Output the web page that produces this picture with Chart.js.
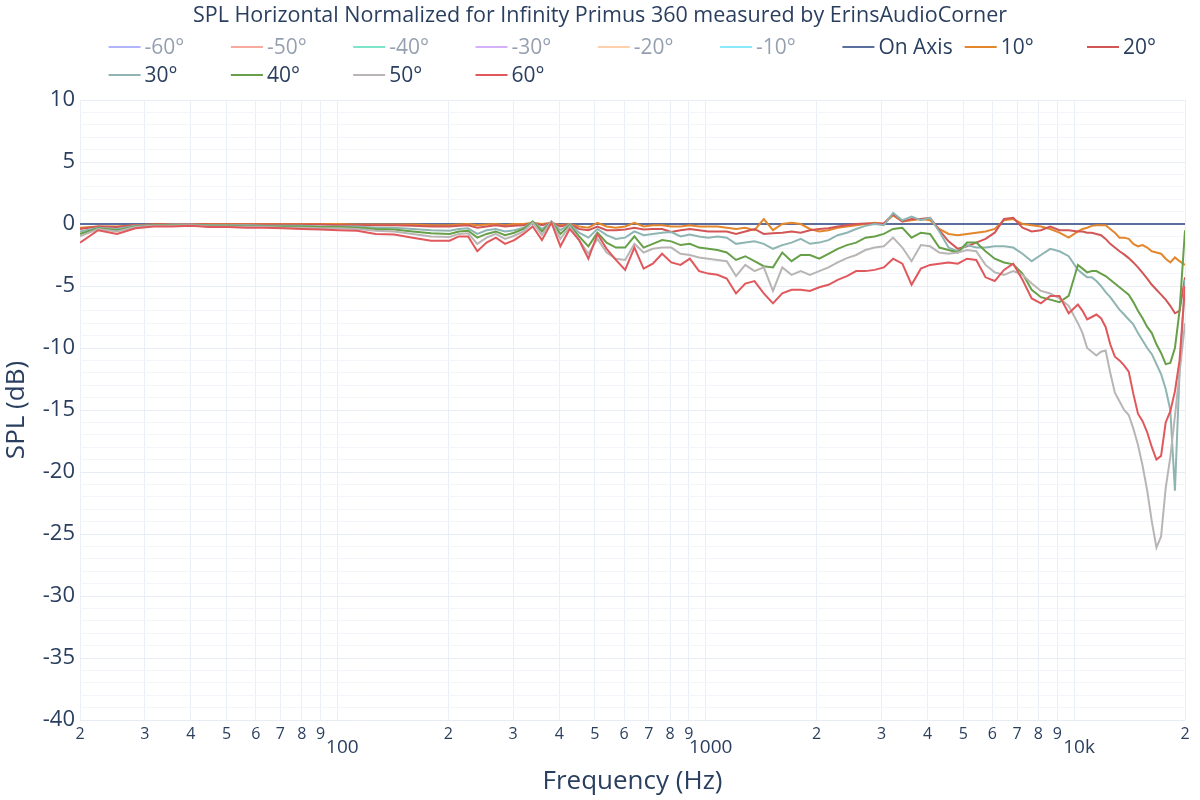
<!DOCTYPE html>
<html><head><meta charset="utf-8">
<script src="https://cdn.jsdelivr.net/npm/chart.js@4/dist/chart.umd.min.js"></script>
<style>html,body{margin:0;padding:0;background:#fff;}#wrap{width:1200px;height:800px;position:relative;}</style>
</head><body><div id="wrap"><canvas id="c" width="1200" height="800"></canvas></div>
<script>
const titleText = 'SPL Horizontal Normalized for Infinity Primus 360 measured by ErinsAudioCorner';
const freqs = [20, 22.4, 25.2, 28.3, 31.7, 35.6, 40, 44.9, 50.4, 56.6, 63.5, 71.3, 80, 89.8, 100.8, 113.1, 127, 142.5, 160, 179.6,
201.6, 213.6, 226.3, 239.7, 254, 269.1, 285.1, 302, 320, 339, 359, 381, 403, 427, 453, 480, 508, 538, 570, 604, 640, 678, 718, 761, 806, 854, 905, 959, 1016, 1076, 1140, 1208, 1280, 1356, 1437, 1522, 1613, 1709, 1810, 1918, 2032, 2153, 2281, 2416, 2560, 2712, 2874, 3044, 3225, 3417, 3620, 3836, 4064, 4305, 4561, 4833, 5120, 5424, 5747, 6089, 6451, 6834, 7241, 7671, 8127, 8611, 9123, 9665, 10240,
10540, 10849, 11167, 11494, 11831, 12177, 12534, 12901, 13279, 13668, 14069, 14481, 14905, 15342, 15791, 16255, 16731, 17221, 17726, 18245, 18780, 19330, 20000];

const onAxis = [0,0,0,0,0,0,0,0,0,0,0,0,0,0,0,0,0,0,0,0,
0,0,0,0,0,0,0,0,0,0, 0,0,0,0,0,0,0,0,0,0, 0,0,0,0,0,0,0,0,0,0, 0,0,0,0,0,0,0,0,0,0, 0,0,0,0,0,0,0,0,0,0, 0,0,0,0,0,0,0,0,0,0, 0,0,0,0,0,0,0,0,0,
0,0,0,0,0,0,0,0,0,0,0,0,0,0,0,0,0,0,0,0,0,0,0];

const deg10 = [-0.3, -0.2, -0.2, -0.1, -0.05, 0, 0, 0, 0, 0, 0, 0, 0, 0, 0, -0.05, -0.05, -0.05, -0.05, -0.1,
-0.1, -0.05, 0, -0.1, -0.05, 0, -0.1, 0, 0, 0.1,
0, 0.1, -0.1, 0, -0.2, -0.3, 0.1, -0.2, -0.3, -0.2,
0.1, -0.2, -0.1, -0.1, -0.2, -0.2, -0.1, -0.2, -0.2, -0.2,
-0.3, -0.4, -0.3, -0.5, 0.4, -0.5, 0, 0.1, 0, -0.4,
-0.6, -0.5, -0.3, -0.2, -0.1, 0, 0.1, 0, 0.7, 0.2,
0.3, 0.4, 0.3, -0.4, -0.8, -0.9, -0.8, -0.7, -0.6, -0.4,
0.3, 0.4, 0, -0.1, -0.2, -0.4, -0.7, -1.1, -0.6,
-0.4, -0.3, -0.15, -0.1, -0.1, -0.1, -0.4, -0.7, -1.1, -1.1, -1.2, -1.6, -1.8, -1.7, -1.9, -2.2, -2.3, -2.4, -2.8, -3.1, -2.7, -3.0, -3.3];

const deg20 = [-0.4, -0.2, -0.25, -0.1, -0.05, 0, 0, -0.05, -0.05, -0.05, -0.05, -0.05, -0.05, -0.05, -0.1, -0.1, -0.1, -0.1, -0.15, -0.2,
-0.2, -0.15, -0.1, -0.3, -0.2, -0.1, -0.2, -0.15, -0.1, 0.1,
-0.1, 0.1, -0.2, 0, -0.4, -0.5, -0.2, -0.5, -0.5, -0.45,
-0.3, -0.45, -0.4, -0.4, -0.65, -0.5, -0.4, -0.5, -0.6, -0.6,
-0.6, -0.8, -0.6, -0.4, -0.8, -0.75, -0.7, -0.6, -0.7, -0.5,
-0.4, -0.35, -0.2, -0.1, 0, 0.05, 0.05, 0.05, 0.8, 0.2,
0.4, 0.4, 0.5, -0.5, -1.4, -2.0, -1.8, -1.5, -1.2, -0.7,
0.4, 0.5, -0.3, -0.6, -0.5, -0.2, -0.5, -0.5, -0.6,
-0.6, -0.7, -0.7, -0.8, -0.9, -1.2, -1.6, -1.9, -2.2, -2.45, -2.75, -3.1, -3.5, -3.95, -4.4, -4.9, -5.3, -5.7, -6.1, -6.6, -7.2, -7.0, -4.3];

const deg30 = [-0.6, -0.3, -0.4, -0.15, -0.1, -0.05, -0.05, -0.1, -0.1, -0.1, -0.15, -0.15, -0.15, -0.2, -0.2, -0.2, -0.3, -0.3, -0.4, -0.5,
-0.55, -0.4, -0.35, -0.8, -0.5, -0.4, -0.6, -0.5, -0.3, 0.2,
-0.4, 0.2, -0.5, 0, -0.7, -1.1, -0.4, -0.9, -1.2, -1.1,
-0.6, -0.9, -0.8, -0.7, -0.65, -1.0, -0.85, -1.0, -1.1, -1.0,
-1.1, -1.6, -1.5, -1.4, -1.6, -2.0, -1.7, -1.5, -1.2, -1.6,
-1.5, -1.3, -0.9, -0.7, -0.4, -0.15, 0, -0.1, 0.9, 0.3,
0.6, 0.3, 0.5, -0.6, -1.9, -2.2, -1.7, -1.9, -1.9, -1.8,
-1.8, -1.9, -2.4, -3.0, -2.5, -2.0, -2.2, -2.6, -3.7,
-4.0, -4.3, -4.3, -4.6, -5.0, -5.5, -5.9, -6.4, -6.9, -7.3, -7.7, -8.1, -8.8, -9.4, -10.0, -10.5, -11.3, -12.1, -13.3, -15.0, -21.5, -12.0, -4.5];

const deg40 = [-0.8, -0.35, -0.5, -0.2, -0.1, -0.1, -0.1, -0.15, -0.15, -0.2, -0.2, -0.2, -0.2, -0.25, -0.25, -0.3, -0.4, -0.45, -0.6, -0.75,
-0.8, -0.6, -0.55, -1.1, -0.8, -0.6, -0.9, -0.7, -0.4, 0.2,
-0.6, 0.2, -0.8, -0.1, -1.0, -1.8, -0.7, -1.5, -1.9, -1.9,
-1.0, -1.9, -1.6, -1.3, -1.4, -1.7, -1.6, -1.9, -2.0, -2.1,
-2.3, -2.9, -2.6, -3.0, -3.4, -3.5, -2.3, -3.0, -2.5, -2.5,
-2.8, -2.4, -2.0, -1.7, -1.5, -1.1, -1.0, -0.8, -0.4, -0.3,
-1.1, -0.7, -0.8, -1.9, -2.1, -2.3, -1.5, -1.5, -2.2, -2.8,
-3.1, -3.25, -4.0, -5.3, -5.9, -6.1, -6.3, -5.8, -3.3,
-3.6, -3.9, -3.8, -3.8, -4.0, -4.2, -4.5, -4.8, -5.1, -5.4, -5.7, -6.3, -7.0, -7.6, -8.3, -8.8, -9.7, -10.4, -11.3, -11.2, -10.0, -7.0, -0.5];

const deg50 = [-1.0, -0.4, -0.6, -0.25, -0.15, -0.15, -0.1, -0.2, -0.2, -0.25, -0.25, -0.3, -0.3, -0.35, -0.35, -0.4, -0.55, -0.6, -0.8, -1.0,
-1.05, -0.8, -0.75, -1.6, -1.1, -0.8, -1.2, -0.95, -0.6, 0.1,
-0.9, 0.2, -1.2, -0.2, -1.3, -2.4, -1.2, -2.3, -2.8, -2.9,
-1.6, -2.3, -2.0, -1.9, -1.9, -2.4, -2.5, -2.7, -2.8, -2.9,
-3.0, -4.2, -3.3, -3.8, -3.5, -5.4, -3.5, -4.1, -3.8, -4.1,
-3.8, -3.5, -3.1, -2.75, -2.5, -2.1, -1.9, -1.8, -1.1, -1.9,
-3.0, -1.7, -1.8, -2.3, -2.4, -2.3, -2.1, -2.2, -3.3, -3.9,
-4.1, -3.8, -4.1, -4.8, -5.4, -5.6, -6.0, -6.6, -8.0,
-8.8, -10.0, -10.3, -10.6, -10.3, -10.2, -12.0, -13.6, -14.3, -15.0, -15.4, -16.5, -17.8, -19.5, -21.5, -24.0, -26.1, -25.2, -21.3, -18.8, -15.5, -12.0, -8.0];

const deg60 = [-1.5, -0.5, -0.8, -0.35, -0.2, -0.2, -0.15, -0.25, -0.25, -0.3, -0.3, -0.35, -0.4, -0.45, -0.5, -0.55, -0.8, -0.85, -1.1, -1.35,
-1.35, -1.0, -1.0, -2.2, -1.5, -1.1, -1.6, -1.3, -0.8, -0.2,
-1.3, 0.1, -1.8, -0.4, -1.3, -2.8, -0.8, -2.0, -2.9, -3.7,
-1.9, -3.6, -3.2, -2.4, -3.1, -3.3, -2.8, -3.8, -4.0, -4.1,
-4.4, -5.6, -4.8, -4.6, -5.6, -6.4, -5.6, -5.3, -5.3, -5.4,
-5.1, -4.9, -4.5, -4.2, -3.8, -3.8, -3.7, -3.5, -2.8, -3.2,
-4.9, -3.6, -3.3, -3.2, -3.1, -3.2, -2.8, -2.9, -4.3, -4.6,
-3.7, -3.2, -4.5, -6.0, -6.4, -5.8, -5.8, -7.2, -6.5,
-7.0, -7.7, -7.5, -7.3, -7.6, -8.3, -9.7, -10.7, -11.0, -11.4, -11.9, -13.7, -15.3, -15.9, -16.8, -18.0, -19.0, -18.7, -16.0, -15.1, -13.5, -11.0, -5.0];

const seriesNames = ['-60°', '-50°', '-40°', '-30°', '-20°', '-10°', 'On Axis', '10°', '20°', '30°', '40°', '50°', '60°'];
const seriesColors = ['#636efa', '#ef553b', '#00cc96', '#ab63fa', '#ffa15a', '#19d3f3', '#5b6e9e', '#e3862c', '#d35656', '#8fb5b2', '#67a048', '#bab5b5', '#e0585c'];
const seriesData = [[], [], [], [], [], [], onAxis, deg10, deg20, deg30, deg40, deg50, deg60];
const seriesHidden = [true, true, true, true, true, true, false, false, false, false, false, false, false];

const xTickValues = [20,30,40,50,60,70,80,90,100,200,300,400,500,600,700,800,900,1000,2000,3000,4000,5000,6000,7000,8000,9000,10000,20000];
const xTickLabels = ['2','3','4','5','6','7','8','9','100','2','3','4','5','6','7','8','9','1000','2','3','4','5','6','7','8','9','10k','2'];
const xDecades = [100, 1000, 10000];
const yMin = -40, yMax = 10;

const FONT = '"Open Sans", "DejaVu Sans", sans-serif';
const TXT = '#2a3f5f';

const legendPlugin = {
  id: 'plotlyLegend',
  afterDraw(chart) {
    const ctx = chart.ctx;
    ctx.save();
    ctx.fillStyle = TXT;
    ctx.font = '21.5px ' + FONT;
    ctx.textAlign = 'center';
    ctx.textBaseline = 'middle';
    ctx.fillText(titleText, 600, 16);
    ctx.font = '21px ' + FONT;
    ctx.textAlign = 'left';
    chart.data.datasets.forEach((ds, i) => {
      const col = i % 9, row = Math.floor(i / 9);
      const x = 108.6 + col * 122.3, y = 47 + row * 28;
      ctx.globalAlpha = ds.hidden ? 0.5 : 1;
      ctx.strokeStyle = ds.borderColor;
      ctx.lineWidth = 2;
      ctx.beginPath(); ctx.moveTo(x, y); ctx.lineTo(x + 32, y); ctx.stroke();
      ctx.fillStyle = TXT;
      ctx.fillText(ds.label, x + 36, y + 1);
    });
    ctx.restore();
  }
};

function draw() {
  const datasets = seriesNames.map((name, i) => ({
    label: name,
    data: seriesData[i].map((v, j) => ({x: freqs[j], y: v})),
    borderColor: seriesColors[i],
    backgroundColor: seriesColors[i],
    borderWidth: 2,
    pointRadius: 0,
    tension: 0,
    fill: false,
    hidden: seriesHidden[i],
    order: 100 - i
  }));
  new Chart(document.getElementById('c'), {
    type: 'line',
    data: { datasets },
    plugins: [legendPlugin],
    options: {
      responsive: false,
      animation: false,
      layout: { padding: { left: 0, right: 15, top: 100, bottom: 0 } },
      plugins: { legend: { display: false }, title: { display: false }, tooltip: { enabled: false } },
      scales: {
        x: {
          type: 'logarithmic',
          min: 20, max: 20000,
          afterBuildTicks: (s) => { s.ticks = xTickValues.map(v => ({ value: v })); },
          afterFit: (s) => { s.height = 80; },
          border: { display: false },
          grid: { color: '#ebf0f8', lineWidth: 1, drawTicks: false },
          ticks: {
            autoSkip: false, maxRotation: 0, minRotation: 0, padding: 4.4,
            color: TXT,
            font: (c) => (c.tick && xDecades.includes(c.tick.value)) ? { family: FONT, size: 19, lineHeight: 0.83 } : { family: FONT, size: 16, lineHeight: 1.2 },
            callback: (v, i) => xDecades.includes(v) ? ['', '  ' + xTickLabels[i]] : xTickLabels[i]
          },
          title: { display: true, text: 'Frequency (Hz)', color: TXT, font: { family: FONT, size: 26 }, padding: { top: 0, bottom: 3 } }
        },
        y: {
          type: 'linear',
          min: yMin, max: yMax,
          afterFit: (s) => { s.width = 80; },
          border: { display: false },
          grid: { color: (c) => (c.tick && c.tick.value % 5 === 0) ? '#e8edf5' : '#f2f5fa', lineWidth: 1, drawTicks: false },
          ticks: {
            stepSize: 1, autoSkip: false, padding: 5, color: TXT,
            font: { family: FONT, size: 22 },
            callback: (v) => (v % 5 === 0) ? String(v) : ''
          },
          title: { display: true, text: 'SPL (dB)', color: TXT, font: { family: FONT, size: 26 }, padding: { top: 1, bottom: 0 } }
        }
      }
    }
  });
}
if (document.fonts && document.fonts.load) {
  Promise.all([document.fonts.load('20px "Open Sans"')]).then(draw, draw);
} else { draw(); }
</script></body></html>
